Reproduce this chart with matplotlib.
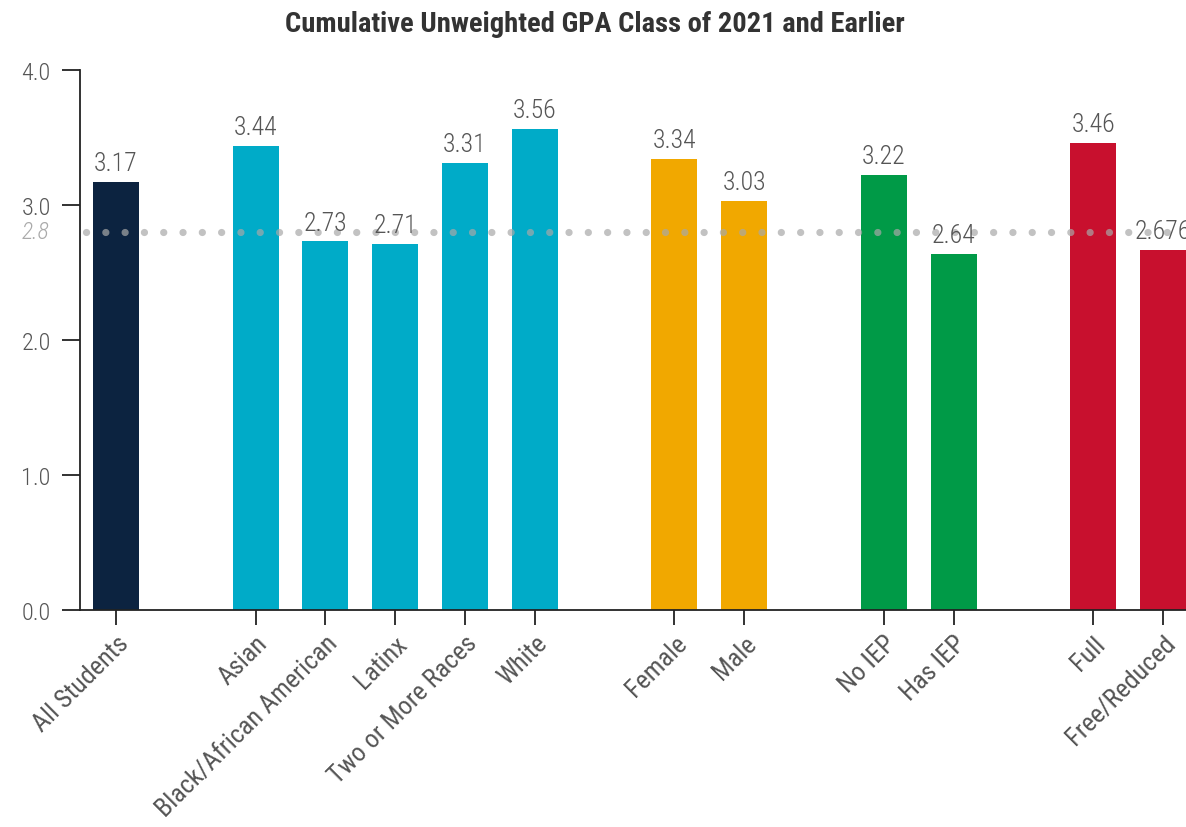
import matplotlib
matplotlib.use("Agg")
import matplotlib.pyplot as plt
import numpy as np

plt.rcParams['font.family'] = ['Roboto Condensed', 'Roboto', 'DejaVu Sans']

categories = ["All Students", "Asian", "Black/African American", "Latinx",
              "Two or More Races", "White", "Female", "Male", "No IEP",
              "Has IEP", "Full", "Free/Reduced"]
values = [3.17, 3.44, 2.73, 2.71, 3.31, 3.56, 3.34, 3.03, 3.22, 2.64, 3.46, 2.67]
value_labels = ["3.17", "3.44", "2.73", "2.71", "3.31", "3.56", "3.34", "3.03",
                "3.22", "2.64", "3.46", "2.676"]
groups = ["all", "race", "race", "race", "race", "race", "gender", "gender",
          "iep", "iep", "income", "income"]
group_colors = {"all": "#0c2340", "race": "#00abc8", "gender": "#f1a800",
                "iep": "#009a47", "income": "#c8102e"}
reference_value = 2.8
title = "Cumulative Unweighted GPA Class of 2021 and Earlier"

# slot positions: one empty slot between groups
positions = []
slot = 0
prev = None
for g in groups:
    if prev is not None and g != prev:
        slot += 1
    positions.append(slot)
    slot += 1
    prev = g
positions = np.array(positions, dtype=float)

W, H = 1186, 828
fig = plt.figure(figsize=(W / 100, H / 100), dpi=100)
ax_left, ax_right = 80, 1186
ax_top, ax_bottom = 71, 611
ax = fig.add_axes([ax_left / W, 1 - ax_bottom / H,
                   (ax_right - ax_left) / W, (ax_bottom - ax_top) / H])

slot_px = 69.8
bar_w = 46 / slot_px
ax.bar(positions, values, width=bar_w,
       color=[group_colors[g] for g in groups], zorder=2)

ax.set_ylim(0, 4)
ax.set_xlim(positions[0] - 36 / slot_px,
            positions[0] - 36 / slot_px + (ax_right - ax_left) / slot_px)

for x, v, lab in zip(positions, values, value_labels):
    ax.annotate(lab, (x, v), xytext=(0, 5), textcoords="offset points",
                ha="center", va="bottom", fontsize=18.5, fontweight="light",
                color="#555555", zorder=4, annotation_clip=False)

# reference dotted line
lw_pt = 5.2
lw_px = lw_pt * 100 / 72
period = 19.3 / lw_px
ax.axhline(reference_value, color="#a8a8a8", alpha=0.7, lw=lw_pt,
           ls=(period - 6 / lw_px, (0.01, period - 0.01)),
           dash_capstyle="round", zorder=3)
ax.annotate(f"{reference_value}", xy=(0, reference_value),
            xycoords=("axes fraction", "data"), xytext=(-22, 0),
            textcoords="offset points", ha="right", va="center",
            fontsize=17, style="italic", fontweight="light", color="#aaaaaa")

ax.spines["top"].set_visible(False)
ax.spines["right"].set_visible(False)
for s in ("left", "bottom"):
    ax.spines[s].set_color("#222222")
    ax.spines[s].set_linewidth(1.3)

ax.set_yticks([0, 1, 2, 3, 4])
ax.set_yticklabels(["0.0", "1.0", "2.0", "3.0", "4.0"])
ax.tick_params(axis="y", length=13, width=1.3, color="#222222", pad=8,
               labelsize=17.5, labelcolor="#555555")
for t in ax.get_yticklabels():
    t.set_fontweight("light")
ax.set_xticks(positions)
ax.set_xticklabels(categories, rotation=45, ha="right", rotation_mode="anchor")
ax.tick_params(axis="x", length=11, width=1.3, color="#222222", pad=4,
               labelsize=18.8, labelcolor="#555555")

fig.text(0.502, 1 - 24 / H, title, ha="center", va="center",
         fontsize=20.5, fontweight="bold", color="#333333")

fig.savefig("out.png", dpi=100)
